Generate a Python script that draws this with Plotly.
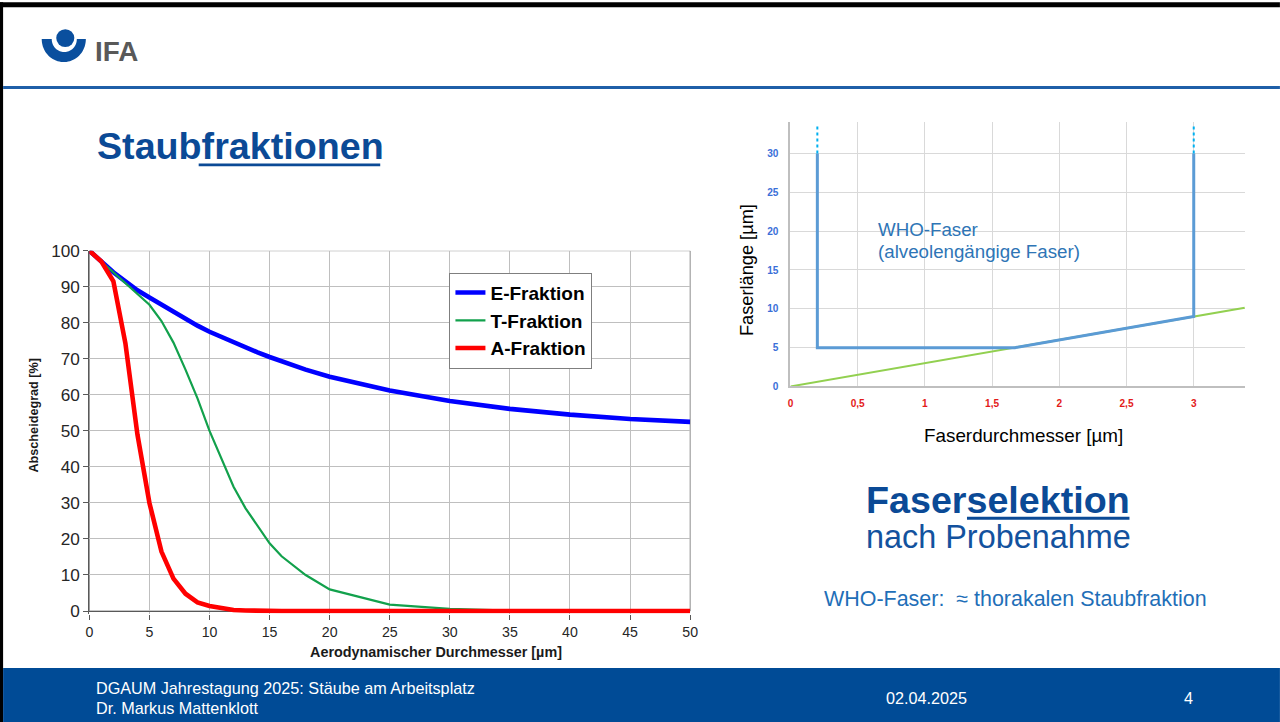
import numpy as np
import plotly.graph_objects as go

W, H = 1280, 722
FONT = "Liberation Sans, Arial, sans-serif"
DARK_BLUE = "#0b4a96"

# --- Staubfraktionen: Abscheidegrad [%] über aerodynamischem Durchmesser [µm] ---
diameter = [0, 1, 2, 3, 4, 5, 6, 7, 8, 9, 10, 11, 12, 13, 14, 15, 16, 18, 20, 25, 30, 35, 40, 45, 50]
e_fraktion = [100, 97, 94, 91.5, 89, 87, 85, 83, 81, 79.2, 77.5, 76, 74.5, 73, 71.8, 70.5, 69.3,
              67, 65, 61.2, 58.3, 56.1, 54.5, 53.3, 52.5]
t_fraktion = [100, 97, 94, 91, 88, 85, 80.5, 74.5, 67, 59, 50, 42, 34.5, 28.5, 23.5, 18.8, 15.2,
              10, 6, 1.8, 0.6, 0.1, 0, 0, 0]
a_fraktion = [100, 97, 91.5, 74.3, 49, 30, 16.5, 9, 4.8, 2.4, 1.4, 0.7, 0.3, 0.15, 0.05, 0, 0,
              0, 0, 0, 0, 0, 0, 0, 0]
left_x_ticks = [0, 5, 10, 15, 20, 25, 30, 35, 40, 45, 50]
left_y_ticks = [0, 10, 20, 30, 40, 50, 60, 70, 80, 90, 100]

# --- Faserselektion: WHO-Faser-Bereich (Länge über Durchmesser) ---
who_d = [0.2, 0.2, 1.67, 3, 3]
who_l = [30, 5, 5, 9, 30]
ratio_d = [0, 3.38]
ratio_l = [0, 10.14]
open_left_d, open_left_l = [0.2, 0.2], [30, 33.5]
open_right_d, open_right_l = [3, 3], [30, 33.5]
right_x_ticks = [0, 0.5, 1, 1.5, 2, 2.5, 3]
right_x_labels = ["0", "0,5", "1", "1,5", "2", "2,5", "3"]
right_y_ticks = [0, 5, 10, 15, 20, 25, 30]

# slide layout coordinates (in slide pixels) are mapped onto the page,
# which shows the figure inset by 8 px on every side
PAD = 8
SX = (W + 2 * PAD) / W
SY = (H + 2 * PAD) / H
K = 1.0125  # text scale that goes with the inset
DX = 2      # horizontal nudge of the slide content


def fx(x):
    return (x * SX - PAD) / W


def px(x):
    return fx(x + DX)


def py(y):
    return 1 - (y * SY - PAD) / H


def fs(size):
    return round(size * K, 2)


fig = go.Figure()

# left chart
fig.add_trace(go.Scatter(x=diameter, y=e_fraktion, name="E-Fraktion", mode="lines",
                         line=dict(color="#0000ff", width=4.6), xaxis="x", yaxis="y"))
fig.add_trace(go.Scatter(x=diameter, y=t_fraktion, name="T-Fraktion", mode="lines",
                         line=dict(color="#12a14c", width=2.2), xaxis="x", yaxis="y"))
fig.add_trace(go.Scatter(x=diameter, y=a_fraktion, name="A-Fraktion", mode="lines",
                         line=dict(color="#ff0000", width=4.6), xaxis="x", yaxis="y"))

# right chart
fig.add_trace(go.Scatter(x=ratio_d, y=ratio_l, mode="lines", showlegend=False,
                         line=dict(color="#92d050", width=2), xaxis="x2", yaxis="y2"))
fig.add_trace(go.Scatter(x=who_d, y=who_l, mode="lines", showlegend=False,
                         line=dict(color="#5b9bd5", width=3), xaxis="x2", yaxis="y2"))
for dd, ll in ((open_left_d, open_left_l), (open_right_d, open_right_l)):
    fig.add_trace(go.Scatter(x=dd, y=ll, mode="lines", showlegend=False,
                             line=dict(color="#00b0f0", width=2, dash="dot"),
                             xaxis="x2", yaxis="y2"))

shapes = []
annotations = []


def rect(x0, y0, x1, y1, color, xmap=px):
    shapes.append(dict(type="rect", xref="paper", yref="paper", x0=xmap(x0), x1=xmap(x1),
                       y0=py(y1), y1=py(y0), fillcolor=color, line=dict(width=0),
                       layer="above"))


def text(s, x, y, size, color="#000000", bold=False, xanchor="center", angle=0):
    annotations.append(dict(text=s, x=px(x), y=py(y), xref="paper", yref="paper",
                            xanchor=xanchor, yanchor="middle", showarrow=False, textangle=angle,
                            font=dict(family=FONT, size=fs(size), color=color,
                                      weight="bold" if bold else "normal")))


# slide frame, header rule and footer band
rect(0, 0, W, 5, "#000000", xmap=fx)
rect(3, 0, 7, H, "#000000", xmap=fx)
rect(7, 84, W, 87, "#1f5fa8", xmap=fx)
rect(7, 667, W, H, "#004b96", xmap=fx)

# IFA logo
t = np.linspace(0, np.pi, 40)
outer = [(65.5 + 22 * np.cos(a), 37 + 23 * np.sin(a)) for a in t]
inner = [(66 + 12.5 * np.cos(a), 37 + 13 * np.sin(a)) for a in t[::-1]]
pts = outer + inner
path = "M " + " L ".join(f"{px(x):.5f},{py(y):.5f}" for x, y in pts) + " Z"
shapes.append(dict(type="path", xref="paper", yref="paper", path=path,
                   fillcolor="#0a4f9e", line=dict(width=0)))
shapes.append(dict(type="circle", xref="paper", yref="paper", x0=px(58), x1=px(76),
                   y0=py(45), y1=py(27), fillcolor="#0a4f9e", line=dict(width=0)))
text("IFA", 95, 49, 27.5, "#595959", bold=True, xanchor="left")

# titles
text("Staubfraktionen", 97, 144, 37.2, DARK_BLUE, bold=True, xanchor="left")
rect(200, 161.5, 381, 164.5, DARK_BLUE)
text("Faserselektion", 997, 499, 37.2, DARK_BLUE, bold=True)
rect(966, 515.5, 1128, 518.5, DARK_BLUE)
text("nach Probenahme", 997, 536, 32, "#13529e")
text("WHO-Faser:\u00a0 \u2248 thorakalen Staubfraktion", 1014, 598, 21.2, "#1f6fb8")

# axis titles
text("Abscheidegrad [%]", 36, 414, 12.5, "#1a1a1a", bold=True, angle=-90)
text("Aerodynamischer Durchmesser [µm]", 437, 651, 14.2, "#1a1a1a", bold=True)
text("Faserlänge [µm]", 746, 268, 18, "#000000", angle=-90)
text("Faserdurchmesser [µm]", 1022, 434, 18.6, "#000000")

# label inside the fibre chart
text("WHO-Faser", 875, 228, 18.5, "#2e75b6", xanchor="left")
text("(alveolengängige Faser)", 875, 250, 18.5, "#2e75b6", xanchor="left")

# footer
text("DGAUM Jahrestagung 2025: Stäube am Arbeitsplatz", 96, 687, 16, "#ffffff", xanchor="left")
text("Dr. Markus Mattenklott", 96, 707, 16, "#ffffff", xanchor="left")
text("02.04.2025", 926, 697, 16, "#ffffff")
text("4", 1187, 697, 16, "#ffffff")

# frame of the left plot area (from 0 % to 100 %)
shapes.append(dict(type="rect", xref="x domain", yref="y", x0=0, x1=1, y0=0, y1=100,
                   line=dict(color="#8c8c8c", width=1), layer="below"))

# the y range starts a little below 0 so the curves lying on 0 % keep their full width
Y_MIN = -0.7
LEFT_TOP, LEFT_ZERO = 249, 610
left_px_per_pct = (LEFT_ZERO - LEFT_TOP) / 100

fig.update_layout(
    margin=dict(l=0, r=0, t=0, b=0),
    paper_bgcolor="#ffffff", plot_bgcolor="#ffffff",
    separators=",.",
    font=dict(family=FONT),
    showlegend=True,
    legend=dict(x=px(450), y=py(271), xanchor="left", yanchor="top",
                bgcolor="#ffffff", bordercolor="#7f7f7f", borderwidth=1,
                font=dict(family=FONT, size=fs(18.8), color="#000000", weight="bold"),
                itemwidth=30, tracegroupgap=0),
    xaxis=dict(domain=[px(91), px(690)], range=[0, 50], tickvals=left_x_ticks,
               showgrid=True, gridcolor="#bfbfbf", gridwidth=1, zeroline=False,
               showline=False,
               ticks="outside", ticklen=5, tickcolor="#595959",
               tickfont=dict(family=FONT, size=fs(14), color="#262626"), anchor="y"),
    yaxis=dict(domain=[py(LEFT_ZERO - Y_MIN * left_px_per_pct), py(LEFT_TOP)],
               range=[Y_MIN, 100], tickvals=left_y_ticks,
               showgrid=True, gridcolor="#bfbfbf", gridwidth=1,
               zeroline=True, zerolinecolor="#595959", zerolinewidth=1,
               showline=True, linecolor="#595959", linewidth=1,
               ticks="outside", ticklen=5, tickcolor="#595959",
               tickfont=dict(family=FONT, size=fs(17), color="#262626"), anchor="x"),
    xaxis2=dict(domain=[px(790), px(1243)], range=[0, 3.38], tickvals=right_x_ticks,
                ticktext=right_x_labels, showgrid=True, gridcolor="#d9d9d9", gridwidth=1,
                zeroline=False, showline=True, linecolor="#bfbfbf", linewidth=2,
                ticks="", ticklabelstandoff=6,
                tickfont=dict(family=FONT, size=fs(10), color="#e31a1a", weight="bold"),
                anchor="y2"),
    yaxis2=dict(domain=[py(385), py(120.5)], range=[0, 34], tickvals=right_y_ticks,
                showgrid=True, gridcolor="#d9d9d9", gridwidth=1, zeroline=False,
                showline=True, linecolor="#bfbfbf", linewidth=2,
                ticks="", ticklabelstandoff=8,
                tickfont=dict(family=FONT, size=fs(10), color="#3a6fd8", weight="bold"),
                anchor="x2"),
    shapes=shapes,
    annotations=annotations,
)

# the slide is pinned to the top-left corner of the page at its full size
fig.write_html("out.html",
               default_width=f"{W}px",
               default_height=f"{H}px; position:absolute; left:0; top:0")
